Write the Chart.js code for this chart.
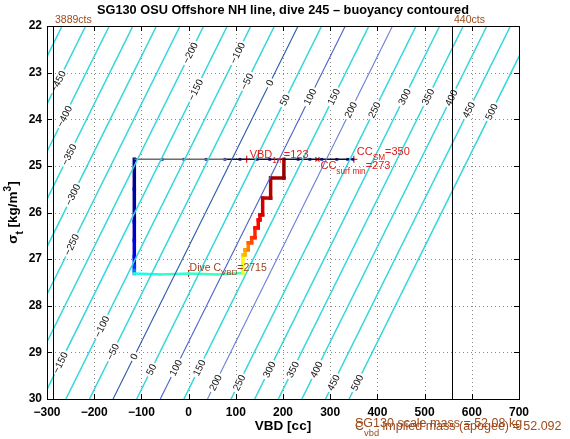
<!DOCTYPE html>
<html>
<head>
<meta charset="utf-8">
<script src="https://cdn.jsdelivr.net/npm/chart.js@4"></script>
<style>
  html, body { margin: 0; padding: 0; background: #fff; }
  canvas { display: block; }
</style>
</head>
<body>
<canvas id="c" width="570" height="439"></canvas>
<script>
// axis ticks
const xTicks = [-300, -200, -100, 0, 100, 200, 300, 400, 500, 600, 700];
const yTicks = [22, 23, 24, 25, 26, 27, 28, 29, 30];

// buoyancy contours: level [g], VBD where each crosses sigma=22 and sigma=30
const contourLevels = [-500, -450, -400, -350, -300, -250, -200, -150, -100, -50, 0, 50, 100, 150, 200, 250, 300, 350, 400, 450, 500];
const contourVbdTop = [-268, -218, -168, -118, -68, -18, 32, 82, 132, 182, 232, 282, 332, 382, 432, 482, 532, 582, 632, 682, 732];
const contourVbdBottom = [-660, -610, -560, -510, -460, -410, -360, -310, -260, -210, -160, -110, -60, -10, 40, 90, 140, 190, 240, 290, 340];

// contour labels (level, sigma where it sits)
const labelLevels = [-450, -400, -200, -150, -100, -50, 0, 50, 100, 150, 200, 250, 300, 350, 400, 450, 500,
  -350, -300, -250,
  -150, -100, -50, 0, 50, 100, 150, 200, 250, 300, 350, 400, 450, 500];
const labelSigma = [23.19, 23.94, 22.58, 23.37, 22.58, 23.19, 23.22, 23.59, 23.52, 23.52, 23.80, 23.80, 23.52, 23.52, 23.54, 23.80, 23.84,
  24.76, 25.62, 26.69,
  29.22, 28.45, 28.99, 29.09, 29.37, 29.33, 29.33, 29.65, 29.65, 29.37, 29.37, 29.37, 29.65, 29.65];

// dive trajectory (VBD, sigma_t, fraction of dive for colour)
const trajVbd = [-115, -115, -115, -115, -115, -115, -115, -115,
  -60, 0, 60, 115,
  115, 115, 119.5, 119.5, 126.4, 126.4, 133.6, 133.6, 140.6, 140.6, 147.6, 147.6,
  151.2, 151.2, 156.9, 156.9, 173.8, 173.8, 201.9, 201.9];
const trajSigma = [24.86, 25.5, 26.2, 26.6, 26.95, 27.15, 27.25, 27.31,
  27.33, 27.31, 27.33, 27.3,
  27.1, 26.91, 26.91, 26.80, 26.80, 26.65, 26.65, 26.54, 26.54, 26.33, 26.33, 26.16,
  26.16, 26.05, 26.05, 25.69, 25.69, 25.26, 25.26, 24.86];
const trajFrac = [0.02, 0.04, 0.07, 0.10, 0.13, 0.18, 0.25, 0.40,
  0.42, 0.43, 0.44, 0.60,
  0.63, 0.68, 0.70, 0.72, 0.75, 0.78, 0.80, 0.82, 0.84, 0.86, 0.87, 0.88,
  0.89, 0.90, 0.92, 0.94, 0.95, 0.97, 0.98, 1.0];

// surface VBD pumping at sigma 24.86
const surfaceSigma = 24.86;
const surfaceGrayVbd = [-115, 80];
const surfaceBlackVbd = [80, 350];
const surfaceMarkVbd = [-113, -56, -10, 37, 77, 109, 145, 172, 202, 232, 257, 282, 314, 337, 348];

// pump count limits
const countLimitVbd = [-287, 558];
const countLimitText = ['3889cts', '440cts'];

// annotated values
const vbd1m = 123, ccSM = 350, ccSurfMin = 273, diveCVbd = 0, diveCSigma = 27.31;

const FONT = '"Liberation Sans", Arial, Helvetica, sans-serif';
const RED = '#dd1c1c';
const BROWN = '#9c4a1a';

function jet(t) {
  const c = v => Math.round(255 * Math.max(0, Math.min(1, v)));
  return `rgb(${c(1.5 - Math.abs(4 * t - 3))},${c(1.5 - Math.abs(4 * t - 2))},${c(1.5 - Math.abs(4 * t - 1))})`;
}

function contourColor(level) {
  if (level === 0) return '#2a5aa8';
  if (level === 100) return '#4a62c8';
  if (level === 200) return '#6a7fd6';
  return '#33d6da';
}

function rich(ctx, x, y, parts, color, size) {
  let cx = x;
  ctx.fillStyle = color;
  ctx.textAlign = 'left';
  ctx.textBaseline = 'alphabetic';
  parts.forEach(p => {
    const fs = p.sub || p.sup ? size * 0.75 : size;
    ctx.font = `${p.bold ? 'bold ' : ''}${fs}px ${FONT}`;
    const dy = p.sub ? size * 0.45 : p.sup ? -size * 0.45 : 0;
    ctx.fillText(p.t, cx, y + dy);
    cx += ctx.measureText(p.t).width;
  });
  return cx;
}

const datasets = [];
contourLevels.forEach((lv, i) => {
  datasets.push({
    data: [{ x: contourVbdTop[i], y: 22 }, { x: contourVbdBottom[i], y: 30 }],
    showLine: true,
    borderColor: contourColor(lv),
    borderWidth: [0, 100, 200].includes(lv) ? 1.1 : 1.5,
    pointRadius: 0,
  });
});
datasets.push({
  data: surfaceGrayVbd.map(v => ({ x: v, y: surfaceSigma })),
  showLine: true, borderColor: '#6c6c6c', borderWidth: 1.5, pointRadius: 0,
});
datasets.push({
  data: surfaceBlackVbd.map(v => ({ x: v, y: surfaceSigma })),
  showLine: true, borderColor: '#10102a', borderWidth: 1.5, pointRadius: 0,
});
datasets.push({
  data: trajVbd.map((v, i) => ({ x: v, y: trajSigma[i] })),
  showLine: true,
  pointRadius: 0,
  borderCapStyle: 'square',
  borderJoinStyle: 'miter',
  borderColor: jet(0.02),
  segment: {
    borderColor: ctx => jet(trajFrac[ctx.p0DataIndex]),
    borderWidth: ctx => ctx.p0DataIndex < 7 ? 3.5 : (ctx.p0DataIndex < 11 ? 2.5 : 3.5),
  },
});
datasets.push({
  data: surfaceMarkVbd.map(v => ({ x: v, y: surfaceSigma })),
  showLine: false, pointStyle: 'rect', pointRadius: 2,
  backgroundColor: '#1c1c9c', borderColor: '#1c1c9c', borderWidth: 0,
});
datasets.push({
  data: [{ x: vbd1m, y: surfaceSigma }, { x: ccSM, y: surfaceSigma }, { x: diveCVbd, y: diveCSigma }],
  showLine: false, pointStyle: 'cross', pointRadius: 3.5, borderColor: RED, borderWidth: 1.2,
});
datasets.push({
  data: [{ x: ccSurfMin, y: surfaceSigma }],
  showLine: false, pointStyle: 'crossRot', pointRadius: 3, borderColor: RED, borderWidth: 1.2,
});

const decor = {
  id: 'decor',
  beforeDatasetsDraw(chart) {
    const { ctx, chartArea: a, scales: { x, y } } = chart;
    ctx.save();
    ctx.strokeStyle = '#8a8a8a';
    ctx.lineWidth = 1;
    ctx.setLineDash([1, 3]);
    xTicks.slice(1, -1).forEach(v => {
      const px = Math.round(x.getPixelForValue(v)) + 0.5;
      ctx.beginPath(); ctx.moveTo(px, a.top); ctx.lineTo(px, a.bottom); ctx.stroke();
    });
    yTicks.slice(1, -1).forEach(v => {
      const py = Math.round(y.getPixelForValue(v)) + 0.5;
      ctx.beginPath(); ctx.moveTo(a.left, py); ctx.lineTo(a.right, py); ctx.stroke();
    });
    ctx.restore();
  },
  afterDatasetsDraw(chart) {
    const { ctx, chartArea: a, scales: { x, y } } = chart;
    ctx.save();
    // contour labels
    ctx.font = `10px ${FONT}`;
    ctx.textAlign = 'center';
    ctx.textBaseline = 'middle';
    labelLevels.forEach((lv, i) => {
      const k = contourLevels.indexOf(lv);
      const s = labelSigma[i];
      const v = contourVbdTop[k] + (contourVbdBottom[k] - contourVbdTop[k]) * (s - 22) / 8;
      const px = x.getPixelForValue(v), py = y.getPixelForValue(s);
      const ang = Math.atan2(y.getPixelForValue(22) - y.getPixelForValue(30),
        x.getPixelForValue(contourVbdTop[k]) - x.getPixelForValue(contourVbdBottom[k]));
      const txt = lv < 0 ? '\u2212' + Math.abs(lv) : String(lv);
      const w = ctx.measureText(txt).width;
      ctx.save();
      ctx.translate(px, py);
      ctx.rotate(ang);
      ctx.fillStyle = '#fff';
      ctx.fillRect(-w / 2 - 2, -4.5, w + 4, 9);
      ctx.fillStyle = '#111';
      ctx.fillText(txt, 0, 0.5);
      ctx.restore();
    });

    // pump count limit lines (crisp, 1px)
    ctx.strokeStyle = '#000';
    ctx.lineWidth = 1;
    ctx.beginPath();
    countLimitVbd.forEach(v => {
      const px = Math.round(x.getPixelForValue(v)) + 0.5;
      ctx.moveTo(px, a.top); ctx.lineTo(px, a.bottom);
    });
    ctx.stroke();

    // axes box and inward ticks
    ctx.strokeRect(Math.round(a.left) + 0.5, Math.round(a.top) + 0.5,
      Math.round(a.right - a.left), Math.round(a.bottom - a.top));
    ctx.beginPath();
    xTicks.forEach(v => {
      const px = Math.round(x.getPixelForValue(v)) + 0.5;
      ctx.moveTo(px, a.bottom); ctx.lineTo(px, a.bottom - 5);
      ctx.moveTo(px, a.top); ctx.lineTo(px, a.top + 5);
    });
    yTicks.forEach(v => {
      const py = Math.round(y.getPixelForValue(v)) + 0.5;
      ctx.moveTo(a.left, py); ctx.lineTo(a.left + 5, py);
      ctx.moveTo(a.right, py); ctx.lineTo(a.right - 5, py);
    });
    ctx.stroke();

    // annotations
    const sy = y.getPixelForValue(surfaceSigma);
    rich(ctx, x.getPixelForValue(vbd1m) + 3, sy - 1,
      [{ t: 'VBD' }, { t: '1m', sub: true }, { t: '=123' }], RED, 11);
    rich(ctx, x.getPixelForValue(ccSM) + 3, sy - 4,
      [{ t: 'CC' }, { t: 'SM', sub: true }, { t: '=350' }], RED, 11);
    rich(ctx, x.getPixelForValue(ccSurfMin) + 3, sy + 10,
      [{ t: 'CC' }, { t: 'surf min', sub: true }, { t: '=273' }], RED, 11);
    rich(ctx, x.getPixelForValue(diveCVbd) + 1, y.getPixelForValue(diveCSigma) - 3,
      [{ t: 'Dive C' }, { t: 'VBD', sub: true }, { t: '=2715' }], '#a0401a', 10.5);

    // pump count labels
    ctx.font = `10.5px ${FONT}`;
    ctx.fillStyle = BROWN;
    ctx.textAlign = 'left';
    ctx.textBaseline = 'alphabetic';
    countLimitVbd.forEach((v, i) => {
      ctx.fillText(countLimitText[i], Math.round(x.getPixelForValue(v)) + 2, a.top - 3);
    });

    // title
    ctx.fillStyle = '#000';
    ctx.font = `bold 12.75px ${FONT}`;
    ctx.textAlign = 'center';
    ctx.fillText('SG130 OSU Offshore NH line, dive 245 \u2013 buoyancy contoured', (a.left + a.right) / 2, 14);

    // axis titles
    ctx.font = `bold 13.5px ${FONT}`;
    ctx.fillText('VBD [cc]', (a.left + a.right) / 2, 430);
    ctx.save();
    ctx.translate(17, (a.top + a.bottom) / 2);
    ctx.rotate(-Math.PI / 2);
    const parts = [{ t: '\u03c3', bold: true }, { t: 't', sub: true, bold: true }, { t: ' [kg/m', bold: true }, { t: '3', sup: true, bold: true }, { t: ']', bold: true }];
    let tw = 0;
    parts.forEach(p => {
      ctx.font = `bold ${p.sub || p.sup ? 13.5 * 0.75 : 13.5}px ${FONT}`;
      tw += ctx.measureText(p.t).width;
    });
    rich(ctx, -tw / 2, 0, parts, '#000', 13.5);
    ctx.restore();

    // mass notes
    ctx.textAlign = 'left';
    ctx.font = `12.5px ${FONT}`;
    ctx.fillStyle = BROWN;
    ctx.fillText('SG130 scale mass = 52.08 kg', 355, 427);
    rich(ctx, 355, 430, [{ t: 'C' }, { t: 'vbd', sub: true }, { t: ' implied mass (apogee) = 52.092' }], BROWN, 12.5);
    ctx.restore();
  },
};

const tickFont = { family: FONT, size: 12, weight: 'bold' };
new Chart(document.getElementById('c'), {
  type: 'scatter',
  data: { datasets },
  options: {
    responsive: false,
    devicePixelRatio: 1,
    animation: false,
    events: [],
    layout: { padding: { left: 0, right: 51, top: 26, bottom: 0 } },
    plugins: { legend: { display: false }, tooltip: { enabled: false } },
    scales: {
      x: {
        type: 'linear', min: -300, max: 700,
        afterBuildTicks: s => { s.ticks = xTicks.map(v => ({ value: v })); },
        afterFit: s => { s.height = 40; },
        ticks: {
          color: '#000', font: tickFont, padding: 6, maxRotation: 0, autoSkip: false,
          callback: v => v < 0 ? '\u2212' + Math.abs(v) : String(v),
        },
        grid: { display: false, drawTicks: false },
        border: { display: false },
      },
      y: {
        type: 'linear', min: 22, max: 30, reverse: true,
        afterBuildTicks: s => { s.ticks = yTicks.map(v => ({ value: v })); },
        afterFit: s => { s.width = 47; },
        ticks: { color: '#000', font: tickFont, padding: 5, autoSkip: false },
        grid: { display: false, drawTicks: false },
        border: { display: false },
      },
    },
  },
  plugins: [decor],
});
</script>
</body>
</html>
